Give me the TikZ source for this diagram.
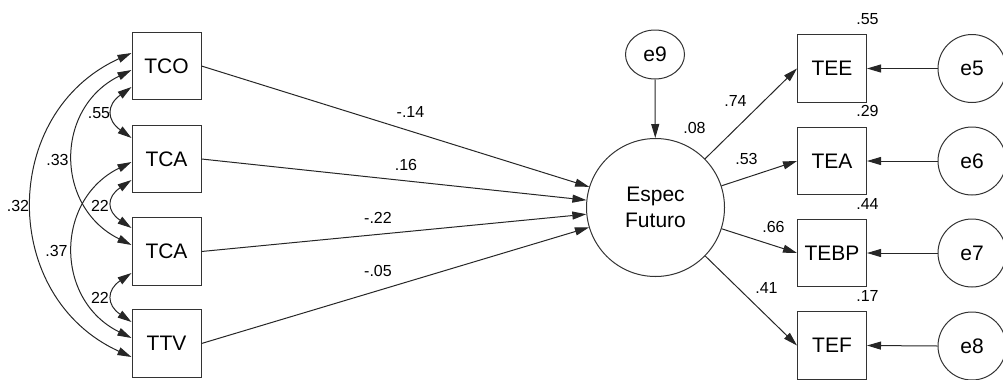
\documentclass[tikz,border=0pt]{standalone}
\usepackage{fontspec}
\setmainfont{Liberation Sans}
\usetikzlibrary{arrows.meta,calc,shapes.geometric}
\begin{document}
\begin{tikzpicture}[x=0.75pt,y=-0.75pt,
  every node/.style={inner sep=0pt},
  tip/.tip={Triangle[length=10.5pt,width=6pt]},
  ln/.style={draw=black!85, line width=0.75pt},
  arr/.style={ln, -tip},
  dbl/.style={ln, tip-tip},
  big/.style={font=\fontsize{15.75}{19.5}\selectfont},
  lab/.style={font=\fontsize{12}{14}\selectfont},
  obs/.style={big, draw=black!80, line width=0.75pt, minimum width=51.75pt, minimum height=50.5pt},
  err/.style={big, circle, draw=black!80, line width=0.75pt, minimum size=51pt},
]
\useasboundingbox (0,0) rectangle (1003,379);
% observed variables left
\node[obs] (TCO) at (166.5,66) {TCO};
\node[obs] (TCA1) at (166.5,159) {TCA};
\node[obs] (TCA2) at (166.5,251.5) {TCA};
\node[obs] (TTV) at (166.5,343.5) {TTV};
% latent
\node[big, circle, draw=black!80, line width=0.75pt, minimum size=103.5pt, align=center] (F) at (655.5,207.5) {Espec\\Futuro};
\node[big, ellipse, draw=black!80, line width=0.75pt, minimum width=44.25pt, minimum height=36.75pt] (e9) at (655,54.5) {e9};
% right observed
\node[obs] (TEE) at (832,68.5) {TEE};
\node[obs] (TEA) at (832,161) {TEA};
\node[obs] (TEBP) at (832,253) {TEBP};
\node[obs] (TEF) at (832,345.5) {TEF};
% errors
\node[err] (e5) at (972,68.5) {e5};
\node[err] (e6) at (972,161) {e6};
\node[err] (e7) at (972,253) {e7};
\node[err] (e8) at (972,346) {e8};
% paths
\draw[arr] (TCO.east) -- (F);
\draw[arr] (TCA1.east) -- (F);
\draw[arr] (TCA2.east) -- (F);
\draw[arr] (TTV.east) -- (F);
\draw[arr] (e9) -- (F);
\draw[arr] (F) -- (TEE.west);
\draw[arr] (F) -- (TEA.west);
\draw[arr] (F) -- (TEBP.west);
\draw[arr] (F) -- (TEF.west);
\draw[arr] (e5.west) -- (TEE.east);
\draw[arr] (e6.west) -- (TEA.east);
\draw[arr] (e7.west) -- (TEBP.east);
\draw[arr] (e8.west) -- (TEF.east);
% covariances
\coordinate (c32a) at ($(TCO.west)+(0,-13)$);
\coordinate (c32b) at ($(TTV.west)+(0,13.5)$);
\coordinate (c33a) at ($(TCO.west)+(0,4)$);
\coordinate (c33b) at ($(TCA2.west)+(0,-6.5)$);
\coordinate (c55a) at ($(TCO.west)+(0,21)$);
\coordinate (c55b) at ($(TCA1.west)+(0,-21)$);
\coordinate (c37a) at ($(TCA1.west)+(0,3)$);
\coordinate (c37b) at ($(TTV.west)+(0,-5.5)$);
\coordinate (c22a) at ($(TCA1.west)+(0,21)$);
\coordinate (c22b) at ($(TCA2.west)+(0,-23.5)$);
\coordinate (c22c) at ($(TCA2.west)+(0,21.5)$);
\coordinate (c22d) at ($(TTV.west)+(0,-21.5)$);
\draw[dbl] (c32a) .. controls +(-132,60) and +(-132,-60) .. (c32b);
\draw[dbl] (c33a) .. controls +(-77,38) and +(-77,-38) .. (c33b);
\draw[dbl] (c55a) .. controls +(-25,18) and +(-25,-18) .. (c55b);
\draw[dbl] (c37a) .. controls +(-77,38) and +(-77,-38) .. (c37b);
\draw[dbl] (c22a) .. controls +(-25,17) and +(-25,-17) .. (c22b);
\draw[dbl] (c22c) .. controls +(-25,17) and +(-25,-17) .. (c22d);
% labels
\node[lab] (l55) at (99,113) {.55};
\node[lab] (l33) at (57.5,160) {.33};
\node[lab] (l32) at (18,205.5) {.32};
\node[lab] (l37) at (56.5,251) {.37};
\node[lab] (l22a) at (100,205.5) {22};
\node[lab] (l22b) at (100,298) {22};
\node[lab] (l14) at (410.5,112) {-.14};
\node[lab] (l16) at (406,165) {.16};
\node[lab] (l22) at (378,217.5) {-.22};
\node[lab] (l05) at (378,271) {-.05};
\node[lab] (l08) at (694.5,127.5) {.08};
\node[lab] (l74) at (735.5,101) {.74};
\node[lab] (l53) at (746.5,159) {.53};
\node[lab] (l66) at (773.5,227) {.66};
\node[lab] (l41) at (766.5,288) {.41};
\node[lab] (r55) at (867.5,19) {.55};
\node[lab] (r29) at (867.5,111) {.29};
\node[lab] (r44) at (867.5,203.5) {.44};
\node[lab] (r17) at (867.5,295.5) {.17};
\end{tikzpicture}
\end{document}
